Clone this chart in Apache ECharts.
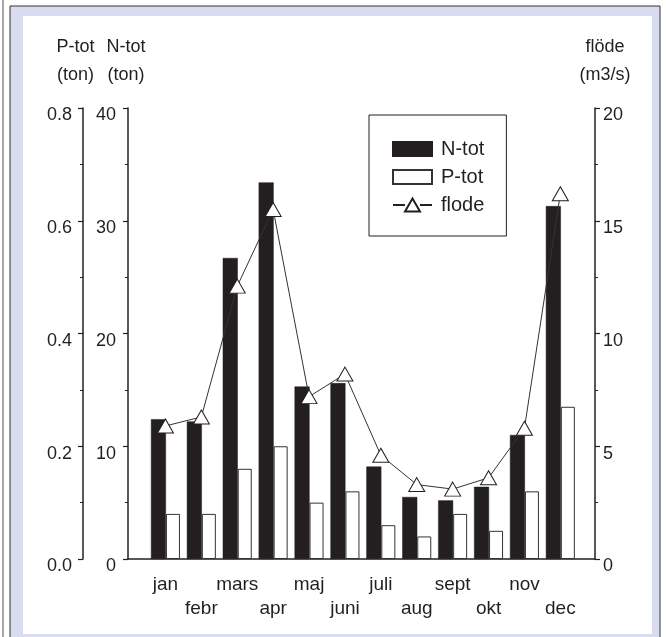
<!DOCTYPE html>
<html>
<head>
<meta charset="utf-8">
<script src="https://cdn.jsdelivr.net/npm/echarts@6/dist/echarts.min.js"></script>
<style>
  html, body { margin: 0; padding: 0; background: #fff; }
  #chart { width: 666px; height: 637px; }
</style>
</head>
<body>
<div id="chart"></div>
<script>
// månader
var months = ['jan', 'febr', 'mars', 'apr', 'maj', 'juni', 'juli', 'aug', 'sept', 'okt', 'nov', 'dec'];
// N-tot (ton)
var nTot = [12.4, 12.2, 26.7, 33.4, 15.3, 15.6, 8.2, 5.5, 5.2, 6.4, 11.0, 31.3];
// P-tot (ton)
var pTot = [0.08, 0.08, 0.16, 0.20, 0.10, 0.12, 0.06, 0.04, 0.08, 0.05, 0.12, 0.27];
// flöde (m3/s)
var flode = [5.9, 6.3, 12.1, 15.5, 7.2, 8.2, 4.6, 3.3, 3.1, 3.6, 5.8, 16.2];

// axelskalor
var nTicks = [0, 10, 20, 30, 40];
var pTicks = [0.0, 0.2, 0.4, 0.6, 0.8];
var fTicks = [0, 5, 10, 15, 20];

var font = "'Liberation Sans', Arial, sans-serif";
var ink = '#231f20';

// linje + triangel i teckenförklaringen
var flodeIcon = 'path://M0,7.5L12,7.5M27,7.5L39,7.5M19.5,1L27,14L12,14Z';

var chart = echarts.init(document.getElementById('chart'), null, { renderer: 'canvas' });

function visibleAxis(ticks, pos, offset, name, namePad, labelMargin, fmt) {
	return {
		type: 'value',
		gridIndex: 0,
		position: pos,
		offset: offset,
		min: ticks[0],
		max: ticks[ticks.length - 1],
		interval: ticks[1] - ticks[0],
		name: name,
		nameLocation: 'end',
		nameGap: 19,
		nameTextStyle: {
			color: ink,
			fontFamily: font,
			fontSize: 18,
			lineHeight: 28,
			padding: namePad
		},
		axisLine: { show: true, lineStyle: { color: ink, width: 1.5 } },
		axisTick: { show: true, inside: false, length: 5, lineStyle: { color: ink, width: 1.2 } },
		minorTick: { show: true, splitNumber: 2, length: 3, lineStyle: { color: ink, width: 1 } },
		splitLine: { show: false },
		axisLabel: {
			color: ink,
			fontFamily: font,
			fontSize: 18,
			margin: labelMargin,
			verticalAlign: 'top',
			lineHeight: 15,
			formatter: fmt
		}
	};
}

function hiddenAxis(ticks) {
	return {
		type: 'value',
		gridIndex: 1,
		show: false,
		min: ticks[0],
		max: ticks[ticks.length - 1],
		interval: ticks[1] - ticks[0]
	};
}

var option = {
	animation: false,
	backgroundColor: '#fff',
	textStyle: { fontFamily: font },
	graphic: [
		{ type: 'line', silent: true, z: -10, shape: { x1: 3, y1: 0, x2: 3, y2: 637 }, style: { stroke: '#8a8a8a', lineWidth: 1.5 } },
		{ type: 'rect', silent: true, z: -10, shape: { x: 10, y: 6, width: 650, height: 640 }, style: { fill: '#d9dbef', stroke: '#333', lineWidth: 1 } },
		{ type: 'rect', silent: true, z: -9, shape: { x: 23, y: 16, width: 629, height: 618 }, style: { fill: '#fff' } }
	],
	grid: [
		{ left: 128, right: 71, top: 108, bottom: 78 },
		{ left: 147.5, right: 87.7, top: 108, bottom: 78 }
	],
	legend: {
		left: 369,
		top: 115,
		orient: 'vertical',
		backgroundColor: '#fff',
		borderColor: ink,
		borderWidth: 1,
		padding: [24, 22, 21, 23],
		itemWidth: 39,
		itemHeight: 14,
		itemGap: 8,
		textStyle: { color: ink, fontFamily: font, fontSize: 20, lineHeight: 20, padding: [0, 0, 0, 4] },
		data: [
			{ name: 'N-tot', icon: 'rect' },
			{ name: 'P-tot', icon: 'rect' },
			{ name: 'flode', icon: flodeIcon }
		]
	},
	xAxis: [
		{
			type: 'value',
			gridIndex: 0,
			min: 0,
			max: 1,
			axisLine: { show: true, onZero: false, lineStyle: { color: ink, width: 1.5 } },
			axisTick: { show: false },
			axisLabel: { show: false },
			splitLine: { show: false }
		},
		{
			type: 'category',
			gridIndex: 1,
			data: months,
			axisLine: { show: false },
			axisTick: { show: false },
			axisLabel: {
				interval: 0,
				color: ink,
				fontFamily: font,
				fontSize: 19,
				lineHeight: 24,
				margin: 14,
				formatter: function(v, i) { return i % 2 ? '\n' + v : v; }
			}
		}
	],
	yAxis: [
		visibleAxis(nTicks, 'left', 0, 'N-tot\n(ton)', [0, 4, 0, 0], 12, function(v) { return String(v); }),
		visibleAxis(pTicks, 'left', 45, 'P-tot\n(ton)', [0, 15, 0, 0], 11, function(v) { return v.toFixed(1); }),
		visibleAxis(fTicks, 'right', 0, 'flöde\n(m3/s)', [0, 0, 0, 20], 8, function(v) { return String(v); }),
		hiddenAxis(nTicks),
		hiddenAxis(pTicks),
		hiddenAxis(fTicks)
	],
	series: [
		{
			name: 'N-tot',
			type: 'bar',
			xAxisIndex: 1,
			yAxisIndex: 3,
			data: nTot,
			barWidth: 15,
			barGap: '0%',
			itemStyle: { color: ink, borderColor: ink, borderWidth: 0.5 }
		},
		{
			name: 'P-tot',
			type: 'bar',
			xAxisIndex: 1,
			yAxisIndex: 4,
			data: pTot,
			barWidth: 14,
			barGap: '0%',
			itemStyle: { color: '#fff', borderColor: '#333', borderWidth: 1 }
		},
		{
			name: 'flode',
			type: 'line',
			xAxisIndex: 1,
			yAxisIndex: 5,
			data: flode,
			symbol: 'triangle',
			symbolSize: [16, 14],
			lineStyle: { color: '#333', width: 1 },
			itemStyle: { color: '#fff', borderColor: ink, borderWidth: 1 },
			z: 5
		}
	]
};

chart.setOption(option);
</script>
</body>
</html>
